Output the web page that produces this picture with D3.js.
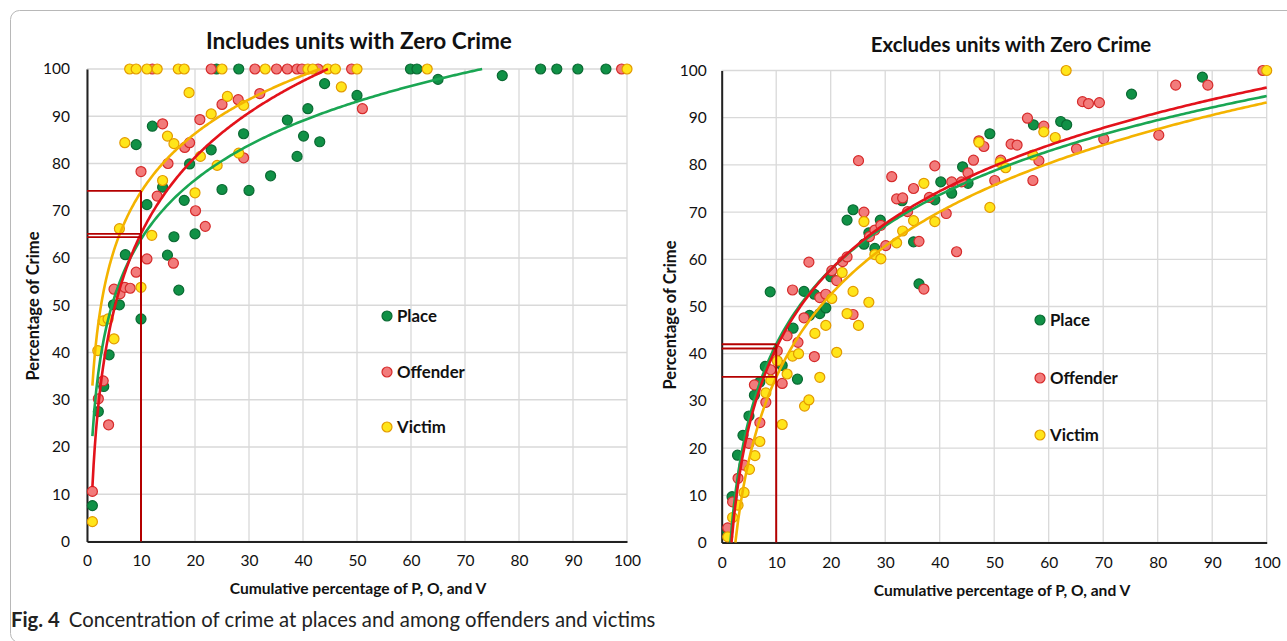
<!DOCTYPE html>
<html><head><meta charset="utf-8">
<script src="https://cdn.jsdelivr.net/npm/d3@7"></script>
<style>
html,body{margin:0;padding:0;background:#fff;}
svg{display:block;font-family:Lato,"Open Sans",sans-serif;}
</style></head>
<body><svg id="c" width="1287" height="641"></svg>
<script>
// ---------- DATA ----------
const ticks = [0,10,20,30,40,50,60,70,80,90,100];
const seriesNames = ["Place","Offender","Victim"];

// Left panel: includes units with zero crime  [x, y]
const leftPlace = [[1.0,7.6],[2.1,27.5],[3.1,32.8],[4.1,39.5],[4.9,50.1],[6.0,50.1],[7.1,60.7],[9.1,84.0],[10.0,47.1],[11.1,71.3],[12.1,87.9],[14.0,75.0],[14.9,60.6],[16.1,64.5],[17.0,53.2],[18.0,72.2],[19.0,79.9],[20.0,65.1],[23.0,82.9],[24.0,100],[25.0,74.5],[28.1,100],[29.0,86.3],[30.0,74.3],[34.0,77.4],[37.1,89.2],[38.9,81.5],[40.1,85.8],[40.9,91.6],[43.1,84.6],[44.0,96.9],[50.0,94.4],[59.9,100],[61.1,100],[65.0,97.8],[76.9,98.6],[84.0,100],[87.0,100],[90.9,100],[96.1,100]];
const leftOffender = [[1.0,10.6],[2.1,30.2],[3.0,34.0],[4.0,24.7],[5.0,53.4],[6.1,52.4],[7.0,53.8],[8.0,53.6],[9.1,57.0],[10.0,78.3],[11.1,59.8],[12.1,100],[13.0,73.1],[14.0,88.4],[15.0,80.0],[16.0,58.9],[18.1,83.4],[19.0,84.4],[20.1,70.0],[20.9,89.3],[21.9,66.7],[23.0,100],[25.0,92.5],[28.0,93.5],[29.0,81.2],[31.1,100],[32.0,94.8],[35.1,100],[37.1,100],[38.9,100],[39.8,100],[42.8,100],[49.0,100],[51.0,91.6],[99.0,100]];
const leftVictim = [[1.0,4.2],[2.0,40.4],[3.0,46.7],[3.9,47.1],[5.0,42.9],[6.0,66.2],[7.0,84.4],[7.9,100],[9.1,100],[10.0,53.8],[11.1,100],[12.0,64.8],[13.0,100],[14.0,76.4],[14.9,85.8],[16.1,84.2],[16.9,100],[18.0,100],[18.9,95.0],[20.0,73.8],[21.0,81.5],[23.0,90.5],[24.1,79.6],[25.0,100],[26.0,94.2],[28.1,82.2],[29.0,92.3],[33.0,100],[40.9,100],[41.8,100],[44.6,100],[46.0,100],[47.1,96.2],[50.0,100],[63.0,100],[100,100]];

// Right panel: excludes units with zero crime
const rightPlace = [[1.1,2.2],[1.9,9.7],[2.9,18.5],[3.9,22.7],[5.0,26.8],[6.0,31.2],[7.0,34.0],[8.0,37.3],[8.9,53.1],[11.1,37.5],[13.1,45.4],[13.9,34.6],[15.1,53.2],[16.1,48.1],[17.0,52.6],[18.0,48.5],[19.1,49.7],[20.0,56.3],[23.0,68.3],[24.1,70.5],[26.1,63.2],[27.0,65.6],[28.1,62.3],[29.1,68.3],[33.1,72.4],[35.2,63.7],[36.2,54.8],[39.1,72.6],[40.2,76.4],[42.2,74.0],[44.2,79.6],[45.2,76.1],[49.2,86.6],[57.2,88.5],[62.2,89.2],[63.3,88.5],[75.2,95.0],[88.2,98.6]];
const rightOffender = [[1.1,3.1],[2.0,8.6],[3.0,13.6],[4.1,16.4],[5.0,21.0],[6.0,33.4],[7.0,25.4],[8.1,29.7],[9.0,36.6],[10.2,40.6],[11.1,33.7],[12.0,43.8],[13.0,53.5],[14.0,42.4],[15.1,47.6],[16.0,59.4],[17.0,39.4],[18.0,51.9],[19.1,52.6],[20.2,57.6],[21.1,55.5],[22.2,59.5],[23.0,60.5],[24.1,48.3],[25.1,80.9],[26.1,70.0],[27.1,64.8],[28.1,66.2],[29.2,67.2],[30.1,62.9],[31.2,77.5],[32.1,72.8],[33.2,73.0],[34.1,70.1],[35.2,75.0],[36.2,63.8],[37.1,53.7],[38.1,73.1],[39.1,79.8],[41.2,69.7],[42.2,76.4],[43.1,61.6],[44.0,76.4],[45.2,78.3],[46.2,81.0],[47.2,85.1],[48.1,83.9],[50.1,76.7],[51.2,81.0],[53.1,84.4],[54.2,84.2],[56.1,89.9],[57.1,76.7],[58.2,80.9],[59.1,88.2],[65.1,83.4],[66.2,93.4],[67.3,93.0],[69.3,93.2],[70.1,85.5],[80.2,86.3],[83.3,96.9],[89.2,96.9],[99.3,100]];
const rightVictim = [[1.1,1.2],[2.0,5.3],[3.0,7.9],[4.1,10.6],[5.1,15.5],[6.1,18.4],[7.0,21.4],[8.1,31.7],[9.0,34.4],[10.2,38.5],[11.1,25.0],[12.0,35.7],[13.0,39.5],[14.1,40.0],[15.2,28.9],[16.0,30.2],[17.1,44.3],[18.0,35.0],[19.1,46.0],[20.2,51.7],[21.1,40.3],[22.1,57.2],[23.0,48.5],[24.1,53.2],[25.1,46.0],[26.1,68.0],[27.0,50.9],[28.1,61.0],[29.2,60.1],[32.1,63.5],[33.2,66.0],[35.2,68.2],[37.1,76.1],[39.1,68.0],[47.2,84.8],[49.2,71.0],[51.1,80.5],[52.1,79.4],[57.1,82.1],[59.1,87.0],[61.2,85.8],[63.2,100],[100,100]];

// Logarithmic trendlines y = a*ln(x) + b  (Place, Offender, Victim)
const leftTrendA = [18.1, 23.3, 17.8];
const leftTrendB = [22.3, 11.5, 33.0];
const rightTrendA = [22.84, 23.97, 25.28];
const rightTrendB = [-10.6, -14.0, -23.2];

// 10% reference lines
const refX = 10;
const leftRefY = [74.2, 65.1, 64.4];
const rightRefY = [42.0, 41.1, 35.1];

const titles = ["Includes units with Zero Crime","Excludes units with Zero Crime"];
const yTitle = "Percentage of Crime";
const xTitle = "Cumulative percentage of P, O, and V";
const captionBold = "Fig. 4";
const captionText = "Concentration of crime at places and among offenders and victims";

// ---------- STYLE ----------
const fills = ["#109146","#f27b7b","#ffe51a"];
const strokes = ["#0b6a33","#d62a2a","#e39a00"];
const lineCols = ["#1aa653","#e3121b","#f4b300"];
const refCol = "#b40000";

const svg = d3.select("#c");

// frame
svg.append("rect").attr("x",10.5).attr("y",10.5).attr("width",1320).attr("height",632)
  .attr("rx",9).attr("fill","none").attr("stroke","#b8b8b8").attr("stroke-width",1);

function panel(cfg){
  const x = d3.scaleLinear().domain([0,100]).range([cfg.x0,cfg.x1]);
  const y = d3.scaleLinear().domain([0,100]).range([cfg.y0,cfg.y1]);
  const g = svg.append("g");
  // grid
  g.append("g").selectAll("line").data(ticks).join("line")
    .attr("x1",d=>x(d)).attr("x2",d=>x(d)).attr("y1",y(0)).attr("y2",y(100))
    .attr("stroke","#d9d9d9").attr("stroke-width",1.3);
  g.append("g").selectAll("line").data(ticks).join("line")
    .attr("x1",x(0)).attr("x2",x(100)).attr("y1",d=>y(d)).attr("y2",d=>y(d))
    .attr("stroke","#d9d9d9").attr("stroke-width",1.3);
  // axes
  const ya = g.append("g").attr("transform",`translate(${x(0)},0)`)
    .call(d3.axisLeft(y).tickValues(ticks).tickSize(0).tickPadding(cfg.yPad));
  const xa = g.append("g").attr("transform",`translate(0,${y(0)})`)
    .call(d3.axisBottom(x).tickValues(ticks).tickSize(0).tickPadding(cfg.xPad));
  [ya,xa].forEach(a=>{
    a.select(".domain").attr("stroke","#222").attr("stroke-width",2);
    a.selectAll("text").attr("font-size",15.5).attr("fill","#111").attr("font-family","Lato, sans-serif");
  });
  // points
  cfg.series.forEach((s,i)=>{
    g.append("g").selectAll("circle").data(s).join("circle")
      .attr("cx",d=>x(d[0])).attr("cy",d=>y(d[1])).attr("r",5)
      .attr("fill",fills[i]).attr("stroke",strokes[i]).attr("stroke-width",1.2);
  });
  // trendlines
  const line = d3.line().x(d=>x(d[0])).y(d=>y(d[1]));
  cfg.trendA.forEach((a,i)=>{
    const b = cfg.trendB[i];
    const xs = Math.max(cfg.xStart, Math.exp((0-b)/a));
    const xe = Math.min(100, Math.exp((100-b)/a));
    const pts = d3.range(0,201).map(k=>{const xv = xs + (xe-xs)*k/200; return [xv, a*Math.log(xv)+b];});
    g.append("path").attr("d",line(pts)).attr("fill","none")
      .attr("stroke",lineCols[i]).attr("stroke-width",2.6);
  });
  // reference lines
  const rmax = d3.max(cfg.refY);
  g.append("line").attr("x1",x(refX)).attr("x2",x(refX)).attr("y1",y(0)).attr("y2",y(rmax))
    .attr("stroke",refCol).attr("stroke-width",2);
  g.append("g").selectAll("line").data(cfg.refY).join("line")
    .attr("x1",x(0)).attr("x2",x(refX)).attr("y1",d=>y(d)).attr("y2",d=>y(d))
    .attr("stroke",refCol).attr("stroke-width",1.8);
  // titles
  svg.append("text").attr("x",cfg.titleX).attr("y",cfg.titleY).attr("text-anchor","middle")
    .attr("font-weight","bold").attr("font-size",cfg.titleSize).attr("fill","#111").text(cfg.title);
  svg.append("text").attr("transform",`translate(${cfg.yTitleX},${cfg.yTitleY}) rotate(-90)`)
    .attr("text-anchor","middle").attr("font-weight","bold").attr("font-size",16.5).attr("fill","#111").text(yTitle);
  svg.append("text").attr("x",cfg.xTitleX).attr("y",cfg.xTitleY).attr("text-anchor","middle")
    .attr("font-weight","bold").attr("font-size",15.6).attr("fill","#111").text(xTitle);
  // legend
  seriesNames.forEach((n,i)=>{
    const ly = cfg.legY[i];
    svg.append("circle").attr("cx",cfg.legX).attr("cy",ly).attr("r",5)
      .attr("fill",fills[i]).attr("stroke",strokes[i]).attr("stroke-width",1.2);
    svg.append("text").attr("x",cfg.legX+10).attr("y",ly+6).attr("font-weight","bold")
      .attr("font-size",16.8).attr("fill","#111").text(n);
  });
}

panel({x0:87,x1:627,y0:541.5,y1:69,yPad:17,xPad:13,xStart:1,
  series:[leftPlace,leftOffender,leftVictim],trendA:leftTrendA,trendB:leftTrendB,refY:leftRefY,
  title:titles[0],titleSize:22.6,titleX:359,titleY:49,yTitleX:39,yTitleY:306,xTitleX:358,xTitleY:594,
  legX:387,legY:[316,372,427]});
panel({x0:721.7,x1:1266.7,y0:542.5,y1:70.5,yPad:15,xPad:14,xStart:0.5,
  series:[rightPlace,rightOffender,rightVictim],trendA:rightTrendA,trendB:rightTrendB,refY:rightRefY,
  title:titles[1],titleSize:20.4,titleX:1011,titleY:52,yTitleX:676,yTitleY:315,xTitleX:1002,xTitleY:596,
  legX:1040,legY:[320,378,435]});

// caption
const cap = svg.append("text").attr("x",11).attr("y",627).attr("font-size",20.3).attr("fill","#222");
cap.append("tspan").attr("font-weight","bold").text(captionBold);
cap.append("tspan").attr("dx",9).text(captionText);
</script></body></html>
